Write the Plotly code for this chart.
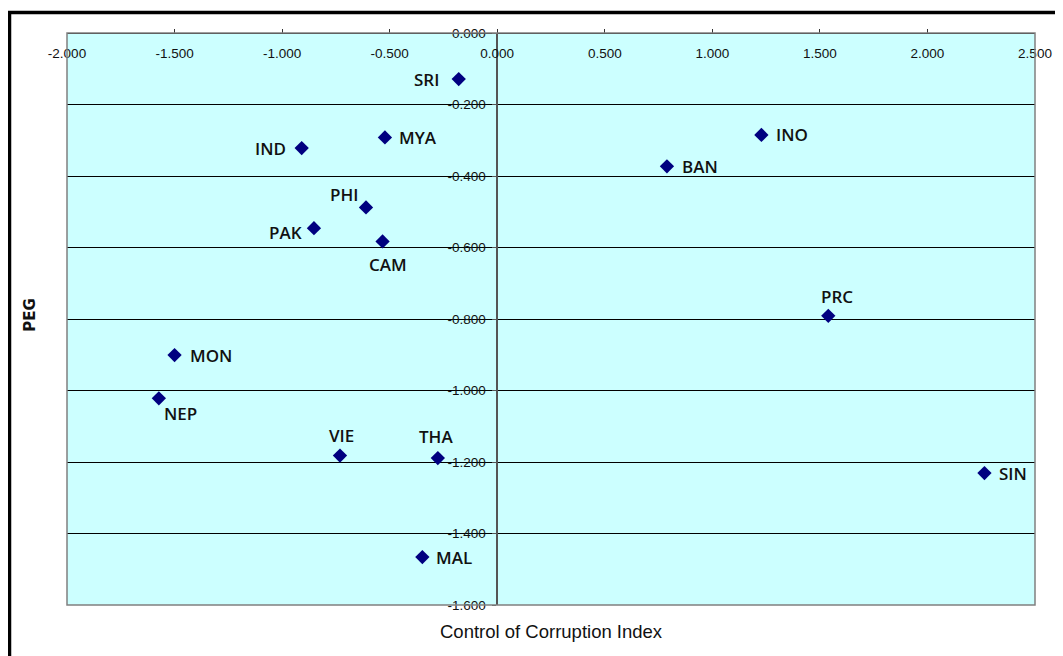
import plotly.graph_objects as go

# ---- data ----
countries = ["SRI", "MYA", "IND", "PHI", "PAK", "CAM", "INO", "BAN", "PRC", "SIN",
             "MON", "NEP", "VIE", "THA", "MAL"]
corruption = [-0.179, -0.522, -0.909, -0.610, -0.852, -0.533, 1.228, 0.789, 1.539, 2.265,
              -1.500, -1.573, -0.731, -0.276, -0.348]
peg = [-0.129, -0.292, -0.322, -0.488, -0.546, -0.583, -0.285, -0.373, -0.791, -1.231,
       -0.901, -1.022, -1.182, -1.189, -1.466]

x_tick_vals = [-2.0, -1.5, -1.0, -0.5, 0.0, 0.5, 1.0, 1.5, 2.0, 2.5]
x_tick_text = ["-2.000", "-1.500", "-1.000", "-0.500", "0.000", "0.500", "1.000", "1.500", "2.000", "2.500"]
y_tick_vals = [0.0, -0.2, -0.4, -0.6, -0.8, -1.0, -1.2, -1.4, -1.6]
y_tick_text = ["0.000", "-0.200", "-0.400", "-0.600", "-0.800", "-1.000", "-1.200", "-1.400", "-1.600"]

x_title = "Control of Corruption Index"
y_title = "PEG"

# ---- label placement (style) : xanchor, xshift, yshift ----
label_style = {
    "SRI": ("right", -18, 0), "MYA": ("left", 12, 0), "IND": ("right", -14, 0),
    "PHI": ("right", -6, 13), "PAK": ("right", -10, -4), "CAM": ("center", 5, -23),
    "INO": ("left", 13, 0), "BAN": ("left", 13, 0), "PRC": ("center", 9, 19),
    "SIN": ("left", 13, 0), "MON": ("left", 13, 0), "NEP": ("center", 22, -15),
    "VIE": ("center", 2, 20), "THA": ("center", -2, 22), "MAL": ("left", 12, 0),
}

X_MIN, X_MAX = -2.0, 2.5
Y_MIN, Y_MAX = -1.6, 0.0

ML, MT, PW, PH = 59, 25, 968, 572
W, H = 1063, 656

fig = go.Figure()
fig.add_trace(go.Scatter(
    x=corruption, y=peg, mode="markers",
    marker=dict(symbol="diamond", size=11, color="#000080"),
    hoverinfo="text", text=countries, showlegend=False,
))

annotations = []
for c, xv, yv in zip(countries, corruption, peg):
    xa, xs, ys = label_style[c]
    annotations.append(dict(
        x=xv, y=yv, xref="x", yref="y", text=c, showarrow=False,
        xanchor=xa, yanchor="middle", xshift=xs, yshift=ys,
        font=dict(family="Open Sans", size=17, color="#111111", weight=600),
    ))

annotations.append(dict(
    x=0.5, y=-0.047, xref="paper", yref="paper", text=x_title, showarrow=False,
    xanchor="center", yanchor="middle",
    font=dict(family="Liberation Sans, Arial", size=18.5, color="#111111"),
))
annotations.append(dict(
    x=-0.0385, y=0.507, xref="paper", yref="paper", text=y_title, showarrow=False,
    textangle=-90, xanchor="center", yanchor="middle",
    font=dict(family="DejaVu Sans", size=15, color="#111111", weight="bold"),
))

tickfont = dict(family="Liberation Sans, Arial", size=13.5, color="#111111")

fig.update_layout(
    width=W, height=H,
    margin=dict(l=ML, r=W - ML - PW, t=MT, b=H - MT - PH),
    paper_bgcolor="white",
    plot_bgcolor="#CCFFFF",
    xaxis=dict(
        range=[X_MIN, X_MAX], side="bottom", anchor="free", position=1.0,
        tickvals=x_tick_vals, ticktext=x_tick_text,
        ticks="inside", ticklen=4, tickcolor="#333333",
        ticklabelstandoff=8, tickfont=tickfont,
        showline=True, linecolor="black", linewidth=1,
        showgrid=False, zeroline=False,
    ),
    yaxis=dict(
        range=[Y_MIN, Y_MAX], anchor="free",
        position=(0 - X_MIN) / (X_MAX - X_MIN),
        tickvals=y_tick_vals, ticktext=y_tick_text,
        ticks="outside", ticklen=4, tickcolor="#555555",
        ticklabelstandoff=4, tickfont=tickfont,
        showline=True, linecolor="#555555", linewidth=1.5,
        showgrid=True, gridcolor="black", gridwidth=1,
        zeroline=False,
    ),
    annotations=annotations,
    shapes=[
        dict(type="rect", xref="x domain", yref="y domain", x0=0, x1=1, y0=0, y1=1,
             line=dict(color="#808080", width=1.5), layer="above"),
        dict(type="rect", xref="paper", yref="paper",
             x0=(1.5 - ML) / PW, x1=(W + 20 - ML) / PW,
             y0=(MT + PH - (H + 20)) / PH, y1=(MT + PH - 4.5) / PH,
             line=dict(color="black", width=3.5), layer="above"),
    ],
)

fig.write_html("out.html")
